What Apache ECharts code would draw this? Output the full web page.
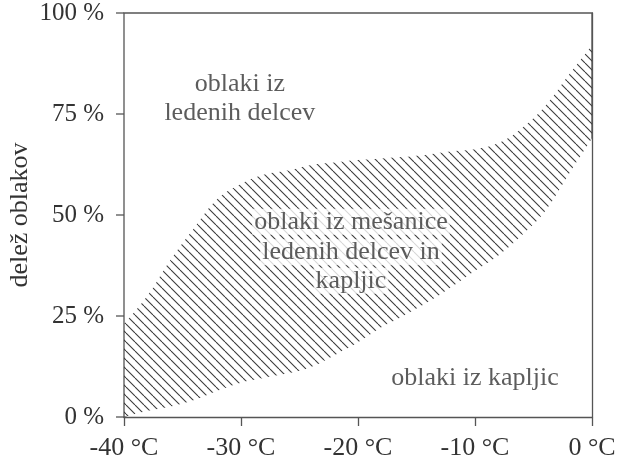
<!DOCTYPE html>
<html>
<head>
<meta charset="utf-8">
<script src="https://cdn.jsdelivr.net/npm/echarts@6/dist/echarts.min.js"></script>
<style>html,body{margin:0;padding:0;background:#fff;}#c{width:619px;height:458px;}</style>
</head>
<body>
<div id="c"></div>
<script>
// temperatures (°C)
var temps = [-40,-38,-36,-34,-32,-30,-28,-26,-24,-22,-20,-18,-16,-14,-12,-10,-8,-6,-4,-2,0];
// lower boundary of the mixed-phase band (%)
var lowerPct = [0,1.5,2.6,4.2,6.5,8.5,9.7,10.8,12.4,15.3,18.5,22.2,25.2,28.5,32.2,36.2,40,45,51,60,69];
// upper boundary of the mixed-phase band (%)
var upperPct = [23,30,39,46.8,54,57.7,60,61,62.4,63,63.6,64,64.4,65,65.8,66.3,67.8,71.5,77,84.6,92];
// region labels: [temperature, percent, text]
var labelTexts = ['oblaki iz','ledenih delcev','oblaki iz mešanice','ledenih delcev in','kapljic','oblaki iz kapljic'];
var labelTemps = [-30.1,-30.1,-20.6,-20.6,-20.6,-10];
var labelPcts = [82.4,75.2,48.3,40.8,33.7,9.7];
var xTicks = [-40,-30,-20,-10,0];
var yTicks = [0,25,50,75,100];

var FONT = '"Liberation Serif", "DejaVu Serif", serif';
var TXT = '#333';
var AX = '#555';

// hatch pattern tile
var s = 9;
var tile = document.createElement('canvas');
tile.width = s; tile.height = s;
var g = tile.getContext('2d');
g.strokeStyle = '#3a3a3a';
g.lineWidth = 1.1;
for (var k = -1; k <= 1; k++) {
  g.beginPath();
  g.moveTo(k * s, 0);
  g.lineTo(k * s + s, s);
  g.stroke();
}

var upperData = temps.map(function (t, i) { return [t, upperPct[i]]; });
var lowerData = temps.map(function (t, i) { return [t, lowerPct[i]]; });
var labelData = labelTexts.map(function (txt, i) { return [labelTemps[i], labelPcts[i], txt]; });
var yTickData = yTicks.map(function (v) { return [xTicks[0], v]; });

var chart = echarts.init(document.getElementById('c'), null, {renderer: 'canvas'});
chart.setOption({
  animation: false,
  grid: {left: 124, right: 27, top: 13, bottom: 41, containLabel: false, outerBoundsMode: 'none',
         show: true, borderColor: AX, borderWidth: 1.3, backgroundColor: 'transparent'},
  xAxis: {
    type: 'value', min: xTicks[0], max: xTicks[xTicks.length - 1], interval: 10, z: 5,
    splitLine: {show: false},
    axisLine: {show: true, lineStyle: {color: AX, width: 1.3}},
    axisTick: {show: true, length: 9, lineStyle: {color: AX, width: 1.3}},
    axisLabel: {formatter: '{value} °C', color: TXT, fontFamily: FONT, fontSize: 26, margin: 18}
  },
  yAxis: {
    type: 'value', min: yTicks[0], max: yTicks[yTicks.length - 1], interval: 25, z: 5,
    name: 'delež oblakov', nameLocation: 'middle', nameGap: 91, nameMoveOverlap: false,
    nameTextStyle: {color: TXT, fontFamily: FONT, fontSize: 26},
    splitLine: {show: false}, minorTick: {show: false}, minorSplitLine: {show: false},
    axisLine: {show: true, lineStyle: {color: AX, width: 1.3}},
    axisTick: {show: false},
    axisLabel: {formatter: '{value} %', color: TXT, fontFamily: FONT, fontSize: 25, margin: 20}
  },
  series: [
    {
      type: 'line', name: 'upper', data: upperData, smooth: 0.4,
      symbol: 'none', lineStyle: {width: 0, opacity: 0}, silent: true,
      areaStyle: {color: {image: tile, repeat: 'repeat'}, opacity: 1}
    },
    {
      type: 'line', name: 'lower', data: lowerData, smooth: 0.4,
      symbol: 'none', lineStyle: {width: 0, opacity: 0}, silent: true,
      areaStyle: {color: '#fff', opacity: 1}
    },
    {
      type: 'custom', name: 'yticks', data: yTickData, silent: true, z: 6, clip: false,
      renderItem: function (params, api) {
        var p = api.coord([api.value(0), api.value(1)]);
        return {
          type: 'line',
          shape: {x1: p[0] - 8, y1: p[1], x2: p[0], y2: p[1]},
          style: {stroke: AX, lineWidth: 1.3}
        };
      }
    },
    {
      type: 'scatter', data: labelData, symbolSize: 1, itemStyle: {color: 'rgba(0,0,0,0)'}, z: 10,
      label: {
        show: true, position: 'inside', formatter: function (p) { return p.data[2]; },
        color: TXT, fontFamily: FONT, fontSize: 26, backgroundColor: '#fff', padding: [0, 2]
      }
    }
  ]
});
</script>
</body>
</html>
